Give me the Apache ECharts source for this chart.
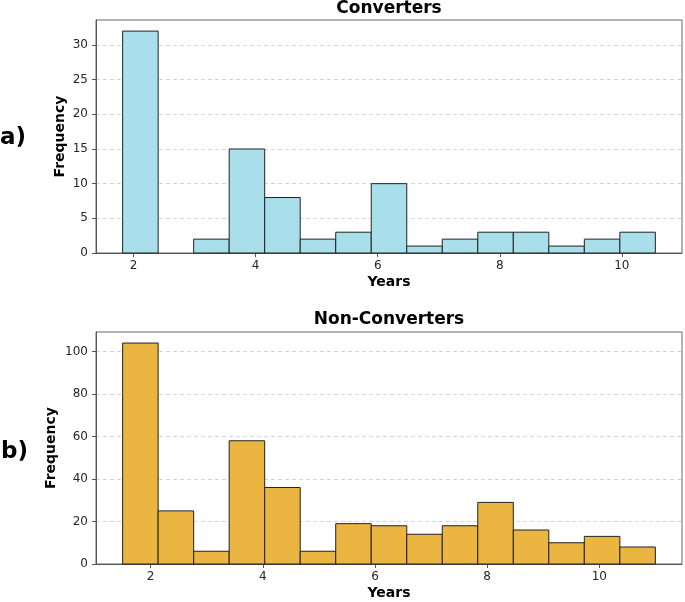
<!DOCTYPE html>
<html>
<head>
<meta charset="utf-8">
<script src="https://cdn.jsdelivr.net/npm/echarts@6/dist/echarts.min.js"></script>
<style>
html,body{margin:0;padding:0;background:#fff;}
#chart{width:685px;height:602px;}
</style>
</head>
<body>
<div id="chart"></div>
<script>
// Bin edges (years) and counts
const convEdges = [1.82, 2.402, 2.984, 3.566, 4.148, 4.73, 5.312, 5.894, 6.476, 7.058, 7.64, 8.222, 8.804, 9.386, 9.968, 10.55];
const convCounts = [32, 0, 2, 15, 8, 2, 3, 10, 1, 2, 3, 3, 1, 2, 3];
const nonEdges = [1.5, 2.133, 2.767, 3.4, 4.033, 4.667, 5.3, 5.933, 6.567, 7.2, 7.833, 8.467, 9.1, 9.733, 10.367, 11.0];
const nonCounts = [104, 25, 6, 58, 36, 6, 19, 18, 14, 18, 29, 16, 10, 13, 8];
const xTicks = [2, 4, 6, 8, 10];
const convYTicks = [0, 5, 10, 15, 20, 25, 30];
const nonYTicks = [0, 20, 40, 60, 80, 100];
const titles = ['Converters', 'Non-Converters'];
const panelLabels = ['a)', 'b)'];

const FONT = 'DejaVu Sans';

function toBins(edges, counts) {
  return counts.map((c, i) => [edges[i], edges[i + 1], c]);
}
function pad(lo, hi, f) { const r = hi - lo; return [lo - r * f, hi + r * f]; }

const convX = pad(convEdges[0], convEdges[convEdges.length - 1], 0.05);
const nonX = pad(nonEdges[0], nonEdges[nonEdges.length - 1], 0.05);
const convYMax = Math.max(...convCounts) * 1.05;
const nonYMax = Math.max(...nonCounts) * 1.05;

function makeRender(color) {
  return function (params, api) {
    const s = api.value(0), e = api.value(1), c = api.value(2);
    if (!c) return null;
    const p0 = api.coord([s, c]);
    const p1 = api.coord([e, 0]);
    return {
      type: 'rect',
      shape: { x: p0[0], y: p0[1], width: p1[0] - p0[0], height: p1[1] - p0[1] },
      style: { fill: color, stroke: '#222', lineWidth: 1 }
    };
  };
}

function xAxisCfg(idx, range) {
  return {
    type: 'value', gridIndex: idx, min: range[0], max: range[1],
    name: 'Years', nameLocation: 'middle', nameGap: 22, nameMoveOverlap: false,
    nameTextStyle: { fontFamily: FONT, fontSize: 14, fontWeight: 'bold', color: '#000' },
    axisLine: { show: true, lineStyle: { color: '#555', width: 1 } },
    axisTick: { show: true, length: 4, customValues: xTicks, lineStyle: { color: '#555' } },
    axisLabel: { customValues: xTicks, margin: 7, fontFamily: FONT, fontSize: 12, color: '#262626' },
    splitLine: { show: false }
  };
}
function yAxisCfg(idx, max, ticks, interval, gap) {
  return {
    type: 'value', gridIndex: idx, min: 0, max: max, interval: interval,
    name: 'Frequency', nameLocation: 'middle', nameGap: gap, nameMoveOverlap: false,
    nameTextStyle: { fontFamily: FONT, fontSize: 14, fontWeight: 'bold', color: '#000' },
    axisLine: { show: true, lineStyle: { color: '#555', width: 1 } },
    axisTick: { show: true, length: 4, customValues: ticks, lineStyle: { color: '#555' } },
    axisLabel: { customValues: ticks, margin: 8, fontFamily: FONT, fontSize: 12, color: '#262626' },
    splitLine: { show: true, lineStyle: { color: '#cccccc', type: [4, 3], width: 0.8 } }
  };
}

const chart = echarts.init(document.getElementById('chart'), null, { renderer: 'canvas' });
chart.setOption({
  animation: false,
  backgroundColor: '#fff',
  grid: [
    { left: 96, top: 20, width: 586, height: 233, show: true, borderColor: '#666', borderWidth: 1, backgroundColor: '#fff', containLabel: false },
    { left: 96, top: 332, width: 586, height: 232, show: true, borderColor: '#666', borderWidth: 1, backgroundColor: '#fff', containLabel: false }
  ],
  xAxis: [xAxisCfg(0, convX), xAxisCfg(1, nonX)],
  yAxis: [yAxisCfg(0, convYMax, convYTicks, 5, 29), yAxisCfg(1, nonYMax, nonYTicks, 20, 38)],
  series: [
    { type: 'custom', xAxisIndex: 0, yAxisIndex: 0, renderItem: makeRender('#a9deeb'),
      encode: { x: [0, 1], y: 2 }, data: toBins(convEdges, convCounts), clip: false },
    { type: 'custom', xAxisIndex: 1, yAxisIndex: 1, renderItem: makeRender('#ebb541'),
      encode: { x: [0, 1], y: 2 }, data: toBins(nonEdges, nonCounts), clip: false }
  ],
  graphic: [
    { type: 'text', x: 389, y: 9, style: { text: titles[0], font: 'bold 17px "DejaVu Sans"', fill: '#000', textAlign: 'center', textVerticalAlign: 'middle' } },
    { type: 'text', x: 389, y: 320, style: { text: titles[1], font: 'bold 17px "DejaVu Sans"', fill: '#000', textAlign: 'center', textVerticalAlign: 'middle' } },
    { type: 'text', x: 0, y: 138, style: { text: panelLabels[0], font: 'bold 23px "DejaVu Sans"', fill: '#000', textAlign: 'left', textVerticalAlign: 'middle' } },
    { type: 'text', x: 1, y: 452, style: { text: panelLabels[1], font: 'bold 23px "DejaVu Sans"', fill: '#000', textAlign: 'left', textVerticalAlign: 'middle' } }
  ]
});
</script>
</body>
</html>
